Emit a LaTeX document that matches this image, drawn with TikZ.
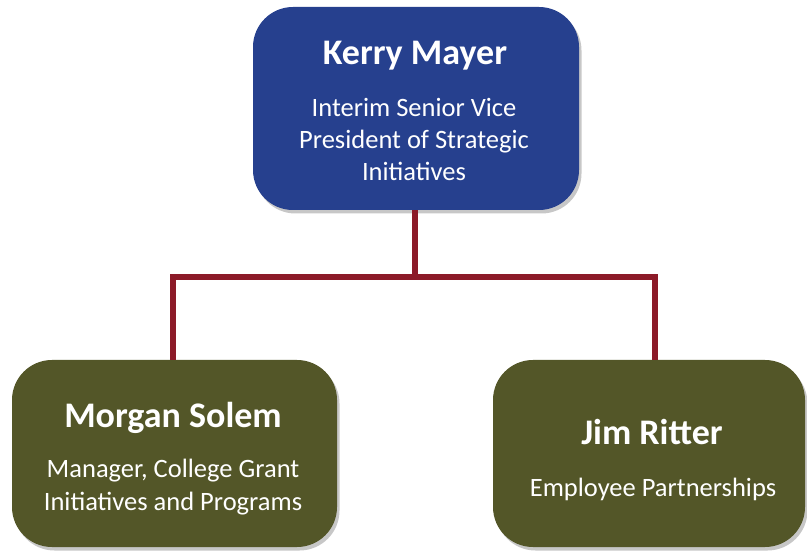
\documentclass[tikz,border=0pt]{standalone}
\usepackage{fontspec}
\setmainfont{Carlito}
\usetikzlibrary{shadows}
\definecolor{topblue}{RGB}{38,64,142}
\definecolor{olivebox}{RGB}{83,86,40}
\definecolor{linkred}{RGB}{140,26,40}
\begin{document}
\begin{tikzpicture}[x=1pt,y=-1pt,
  box/.style={rectangle, rounded corners=40pt, inner sep=0pt, draw=none,
    drop shadow={shadow xshift=2.5pt, shadow yshift=-3.5pt, fill=black, opacity=0.22}},
  nametext/.style={anchor=base, text=white, inner sep=0pt, font=\bfseries\fontsize{36}{43}\selectfont},
  subtext/.style={anchor=base, text=white, inner sep=0pt, font=\fontsize{26.5}{32}\selectfont},
  link/.style={draw=linkred, line width=6pt}]
\useasboundingbox (0,0) rectangle (807,556);
% boxes
\node[box, fill=topblue, minimum width=326pt, minimum height=203pt] (kerry) at (416,108.5) {};
\node[box, fill=olivebox, minimum width=325pt, minimum height=187pt] (morgan) at (174.5,453.5) {};
\node[box, fill=olivebox, minimum width=312pt, minimum height=187pt] (jim) at (649,453.5) {};
% connectors
\coordinate (bar) at (415,277);
\coordinate (jimtop) at (655,360);
\coordinate (morgantop) at (173,360);
\draw[link] (kerry.south -| bar) -- (bar);
\draw[link] (morgantop) |- (jimtop |- bar) -- (jimtop);
% texts
\node[nametext] (kname) at (415,65) {Kerry Mayer};
\node[subtext] (ks1) at (414,117) {Interim Senior Vice};
\node[subtext] (ks2) at (414,149) {President of Strategic};
\node[subtext] (ks3) at (414,181) {Initiatives};
\node[nametext] (mname) at (173,428) {Morgan Solem};
\node[subtext] (ms1) at (173,478) {Manager, College Grant};
\node[subtext] (ms2) at (173,510) {Initiatives and Programs};
\node[nametext] (jname) at (652,445) {Jim Ritter};
\node[subtext] (js1) at (653,496) {Employee Partnerships};
\end{tikzpicture}
\end{document}
